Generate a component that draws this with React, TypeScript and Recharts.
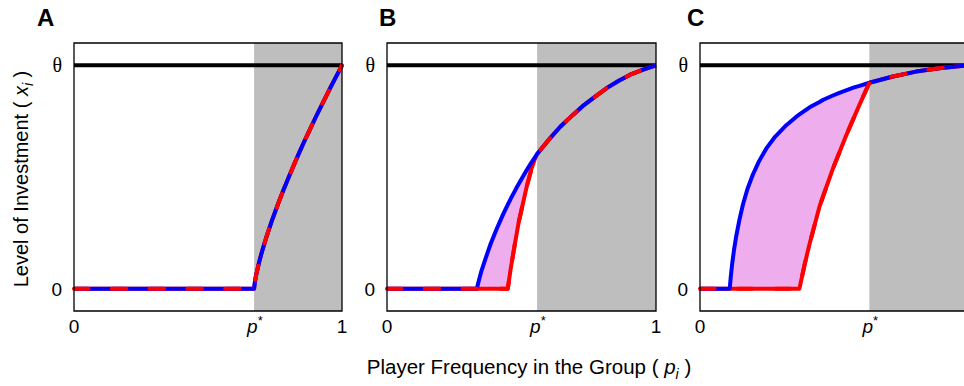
import React from 'react';
import { ComposedChart, Line, Area, XAxis, YAxis, ReferenceArea } from 'recharts';

// ---- data ----
const yDomain: [number, number] = [-0.1, 1.1];
const thetaLevel = 1;
const yTickValues = [0, thetaLevel];
const panelLetters = ['A', 'B', 'C'];
const xLabelText = 'Player Frequency in the Group ( ';
const yLabelText = 'Level of Investment ( ';

const pStarA = 0.672;
const pStarB = 0.558;
const pStarC = 0.632;

// Panel A: both curves coincide
const pA = [0, 0.672, 0.675, 0.68, 0.69, 0.7, 0.72, 0.74, 0.76, 0.78, 0.8, 0.82, 0.84, 0.86, 0.88, 0.9, 0.92, 0.94, 0.96, 0.98, 1.0];
const blueA = [0, 0, 0.03, 0.063, 0.115, 0.16, 0.239, 0.31, 0.375, 0.437, 0.496, 0.553, 0.608, 0.661, 0.712, 0.763, 0.812, 0.86, 0.908, 0.954, 1.0];
const redA = [0, 0, 0.03, 0.063, 0.115, 0.16, 0.239, 0.31, 0.375, 0.437, 0.496, 0.553, 0.608, 0.661, 0.712, 0.763, 0.812, 0.86, 0.908, 0.954, 1.0];

// Panel B
const pB = [0, 0.334, 0.34, 0.35, 0.365, 0.385, 0.408, 0.432, 0.449, 0.458, 0.46, 0.476, 0.482, 0.49, 0.507, 0.52, 0.532, 0.538, 0.548, 0.558, 0.6, 0.644, 0.69, 0.731, 0.775, 0.818, 0.86, 0.904, 0.95, 1.0];
const blueB = [0, 0, 0.03, 0.075, 0.13, 0.2, 0.268, 0.334, 0.376, 0.398, 0.403, 0.439, 0.453, 0.47, 0.506, 0.532, 0.556, 0.567, 0.585, 0.603, 0.665, 0.725, 0.777, 0.821, 0.861, 0.899, 0.93, 0.958, 0.98, 1.0];
const redB = [0, 0, 0, 0, 0, 0, 0, 0, 0, 0.074, 0.09, 0.205, 0.246, 0.3, 0.39, 0.46, 0.513, 0.54, 0.575, 0.603, 0.665, 0.725, 0.777, 0.821, 0.861, 0.899, 0.93, 0.958, 0.98, 1.0];

// Panel C
const pC = [0, 0.111, 0.115, 0.12, 0.127, 0.135, 0.147, 0.16, 0.177, 0.197, 0.22, 0.247, 0.28, 0.322, 0.365, 0.371, 0.39, 0.409, 0.446, 0.46, 0.496, 0.52, 0.545, 0.575, 0.595, 0.632, 0.72, 0.806, 0.9, 1.0];
const blueC = [0, 0, 0.056, 0.111, 0.174, 0.234, 0.308, 0.376, 0.446, 0.51, 0.57, 0.627, 0.68, 0.732, 0.775, 0.78, 0.796, 0.812, 0.836, 0.846, 0.865, 0.877, 0.888, 0.901, 0.908, 0.922, 0.95, 0.972, 0.988, 1.0];
const redC = [0, 0, 0, 0, 0, 0, 0, 0, 0, 0, 0, 0, 0, 0, 0, 0, 0.106, 0.201, 0.368, 0.416, 0.538, 0.61, 0.685, 0.768, 0.823, 0.922, 0.95, 0.972, 0.988, 1.0];

const thetaData = [
  { p: 0, v: thetaLevel },
  { p: 1, v: thetaLevel },
];

const buildRows = (p: number[], blue: number[], red: number[]) =>
  p.map((pv, i) => ({ p: pv, blue: blue[i], red: red[i], range: [red[i], blue[i]] }));

// ---- styles ----
const SANS = '"Liberation Sans", Arial, Helvetica, sans-serif';
const SERIF = '"Liberation Serif", "DejaVu Serif", serif';
const BLUE = '#0000FF';
const RED = '#FF0000';
const PINK = '#EEAEEE';
const GREY = '#BEBEBE';
const LW = 4;

const XTick = (props: any) => {
  const { x, y, payload, pStar } = props;
  const v = payload.value;
  if (Math.abs(v - pStar) < 1e-9) {
    return (
      <text x={x - 7} y={y + 22} fontFamily={SANS} fontSize={19} fill="#000">
        <tspan fontStyle="italic">p</tspan>
        <tspan dy={-8} fontSize={13}>*</tspan>
      </text>
    );
  }
  return (
    <text x={x} y={y + 22} textAnchor="middle" fontFamily={SANS} fontSize={19} fill="#000">
      {v === 0 ? '0' : '1'}
    </text>
  );
};

const YTick = (props: any) => {
  const { x, y, payload } = props;
  const v = payload.value;
  if (v === thetaLevel) {
    return (
      <text x={x} y={y + 7} textAnchor="end" fontFamily={SERIF} fontSize={20} fill="#000">
        θ
      </text>
    );
  }
  return (
    <text x={x} y={y + 7} textAnchor="end" fontFamily={SANS} fontSize={19} fill="#000">
      0
    </text>
  );
};

type PanelProps = {
  rows: { p: number; blue: number; red: number; range: number[] }[];
  pStar: number;
  xTicks: number[];
  left: number;
  width: number;
  marginLeft: number;
  marginRight: number;
};

const Panel = ({ rows, pStar, xTicks, left, width, marginLeft, marginRight }: PanelProps) => (
  <div style={{ position: 'absolute', left, top: 0 }}>
    <ComposedChart
      width={width}
      height={386}
      margin={{ top: 43, right: marginRight, bottom: 0, left: marginLeft }}
    >
      <XAxis
        type="number"
        dataKey="p"
        domain={[0, 1]}
        ticks={xTicks}
        interval={0}
        height={75}
        axisLine={false}
        tickLine={false}
        tickSize={0}
        tickMargin={0}
        tick={(tp: any) => <XTick {...tp} pStar={pStar} />}
      />
      <YAxis
        type="number"
        domain={yDomain}
        ticks={yTickValues}
        interval={0}
        width={60}
        axisLine={false}
        tickLine={false}
        tickSize={0}
        tickMargin={12}
        tick={(tp: any) => <YTick {...tp} />}
      />
      <ReferenceArea
        x1={pStar}
        x2={1}
        y1={yDomain[0]}
        y2={yDomain[1]}
        fill={GREY}
        fillOpacity={1}
        stroke="none"
        zIndex={-10}
      />
      <Area
        data={rows}
        dataKey="range"
        type="linear"
        fill={PINK}
        fillOpacity={1}
        stroke="none"
        isAnimationActive={false}
        dot={false}
        activeDot={false}
      />
      <Line
        data={thetaData}
        dataKey="v"
        type="linear"
        stroke="#000"
        strokeWidth={LW}
        dot={false}
        activeDot={false}
        isAnimationActive={false}
      />
      <Line
        data={rows}
        dataKey="red"
        type="linear"
        stroke={RED}
        strokeWidth={LW}
        strokeLinejoin="round"
        dot={false}
        activeDot={false}
        isAnimationActive={false}
      />
      <Line
        data={rows}
        dataKey="blue"
        type="linear"
        stroke={BLUE}
        strokeWidth={LW}
        strokeLinejoin="round"
        dot={false}
        activeDot={false}
        isAnimationActive={false}
      />
      <Line
        data={rows}
        dataKey="red"
        type="linear"
        stroke={RED}
        strokeWidth={LW}
        strokeDasharray="14.5 23.3"
        strokeLinecap="round"
        strokeLinejoin="round"
        dot={false}
        activeDot={false}
        isAnimationActive={false}
      />
      <ReferenceArea
        x1={0}
        x2={1}
        y1={yDomain[0]}
        y2={yDomain[1]}
        fill="none"
        stroke="#000"
        strokeWidth={1.3}
        zIndex={900}
      />
    </ComposedChart>
  </div>
);

const rowsA = buildRows(pA, blueA, redA);
const rowsB = buildRows(pB, blueB, redB);
const rowsC = buildRows(pC, blueC, redC);

export default function App() {
  return (
    <div
      style={{
        position: 'absolute',
        left: 0,
        top: 0,
        width: 964,
        height: 386,
        overflow: 'hidden',
        background: '#fff',
      }}
    >
      <Panel rows={rowsA} pStar={pStarA} xTicks={[0, pStarA, 1]} left={0} width={350} marginLeft={14} marginRight={8} />
      <Panel rows={rowsB} pStar={pStarB} xTicks={[0, pStarB, 1]} left={320} width={350} marginLeft={7} marginRight={14} />
      <Panel rows={rowsC} pStar={pStarC} xTicks={[0, pStarC]} left={640} width={340} marginLeft={0} marginRight={12} />
      <svg
        width={964}
        height={386}
        style={{ position: 'absolute', left: 0, top: 0, pointerEvents: 'none' }}
      >
        <text x={37} y={26} fontFamily={SANS} fontWeight="bold" fontSize={24} fill="#000">
          {panelLetters[0]}
        </text>
        <text x={379} y={26} fontFamily={SANS} fontWeight="bold" fontSize={24} fill="#000">
          {panelLetters[1]}
        </text>
        <text x={687} y={26} fontFamily={SANS} fontWeight="bold" fontSize={24} fill="#000">
          {panelLetters[2]}
        </text>
        <text x={529} y={374} textAnchor="middle" fontFamily={SANS} fontSize={20.5} fill="#000">
          {xLabelText}
          <tspan fontStyle="italic">p</tspan>
          <tspan fontStyle="italic" fontSize={14} dy={5}>i</tspan>
          <tspan dy={-5}> )</tspan>
        </text>
        <text
          x={0}
          y={0}
          transform="translate(28,179) rotate(-90)"
          textAnchor="middle"
          fontFamily={SANS}
          fontSize={20}
          fill="#000"
        >
          {yLabelText}
          <tspan fontStyle="italic">x</tspan>
          <tspan fontStyle="italic" fontSize={14} dy={5}>i</tspan>
          <tspan dy={-5}> )</tspan>
        </text>
      </svg>
    </div>
  );
}
